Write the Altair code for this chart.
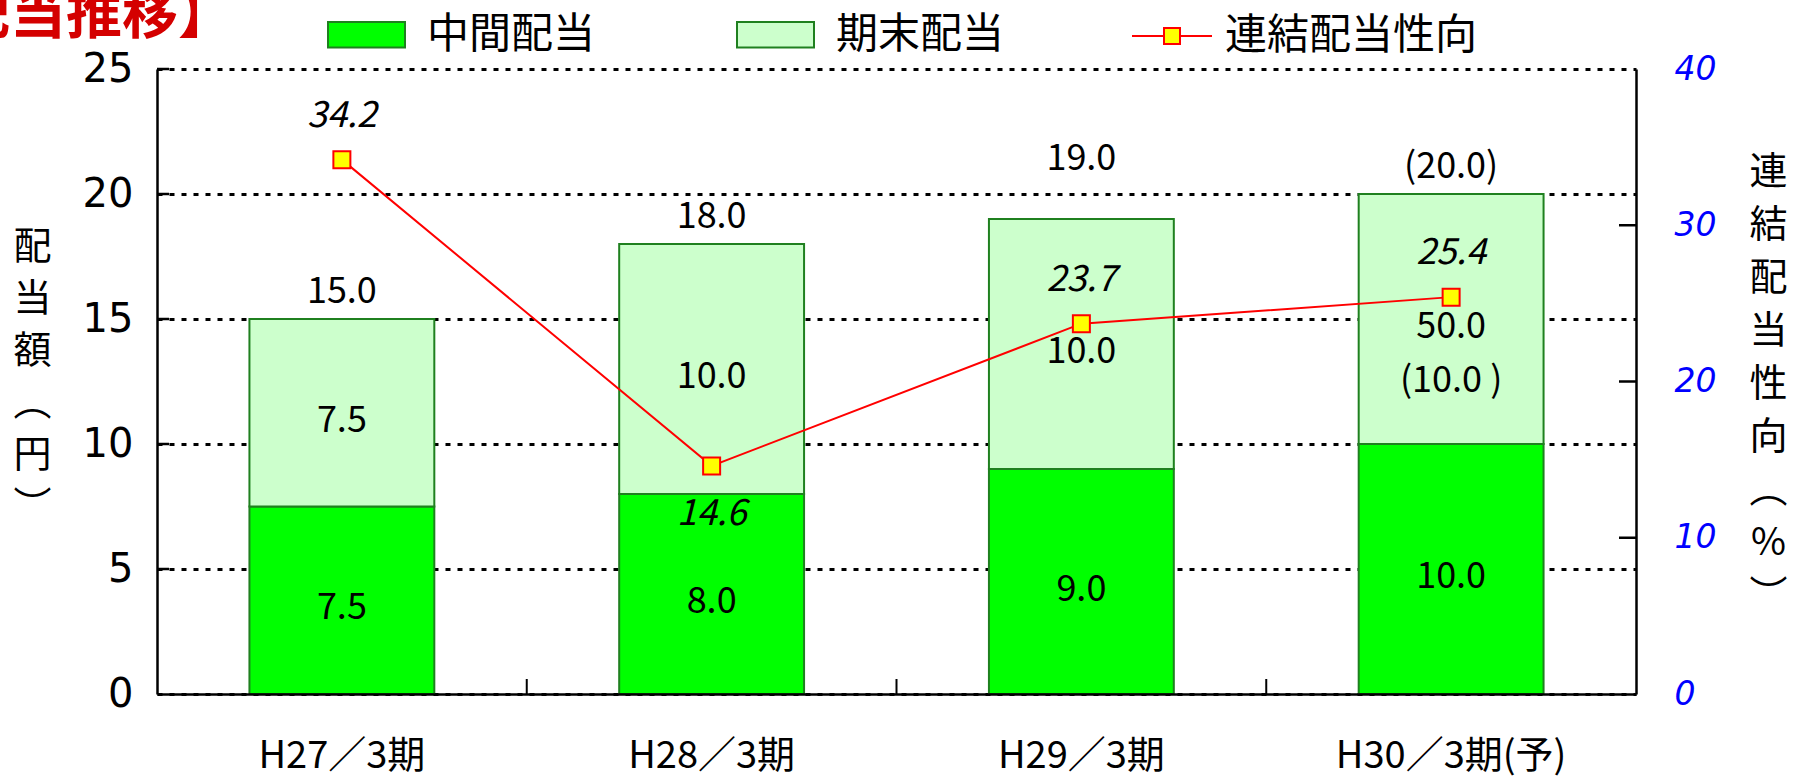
import altair as alt
import pandas as pd

# Dividend per share (yen) by fiscal period, and consolidated payout ratio (%)
periods = ["H27／3期", "H28／3期", "H29／3期", "H30／3期(予)"]
interim = [7.5, 8.0, 9.0, 10.0]
year_end = [7.5, 10.0, 10.0, 10.0]
payout = [34.2, 14.6, 23.7, 25.4]
total_labels = ["15.0", "18.0", "19.0", "(20.0)"]
year_end_labels = ["7.5", "10.0", "10.0", "50.0\n(10.0 )"]

kinds = ["中間配当", "期末配当"]
kind_colors = ["#00ff00", "#ccffcc"]
series_name = "連結配当性向"
heading = "【配当推移】"

left_ticks = [0, 5, 10, 15, 20, 25]
right_ticks = [0, 10, 20, 30, 40]

JP = "Noto Sans CJK JP"
W, H = 1479, 625
STEP = W / 4.0  # band step with paddingInner 0.5 / paddingOuter 0.25

rows = []
for i, p in enumerate(periods):
    rows.append(dict(period=p, kind=kinds[0], value=interim[i], order=0,
                     label=f"{interim[i]:.1f}", mid=interim[i] / 2))
    rows.append(dict(period=p, kind=kinds[1], value=year_end[i], order=1,
                     label=year_end_labels[i], mid=interim[i] + year_end[i] / 2))
bars_df = pd.DataFrame(rows)

totals_df = pd.DataFrame({
    "period": periods,
    "total": [a + b for a, b in zip(interim, year_end)],
    "label": total_labels,
})

ratio_df = pd.DataFrame({
    "period": periods,
    "ratio": payout,
    "series": [series_name] * len(periods),
    "label": [f"{v:.1f}" for v in payout],
})

x_scale = alt.Scale(domain=periods, paddingInner=0.5, paddingOuter=0.25)
x_enc = alt.X(
    "period:N", scale=x_scale, sort=periods, title=None,
    axis=alt.Axis(labelAngle=0, labelFont=JP, labelFontSize=38, labelColor="black",
                  labelPadding=43, labelLimit=0, ticks=False, grid=False,
                  domainColor="black", domainWidth=2.5, zindex=1),
)
# secondary layers share the x scale and leave the axis to the bar layer
x_plain = alt.X("period:N", scale=x_scale, sort=periods, title=None)

left_scale = alt.Scale(domain=[0, 25], nice=False)
right_scale = alt.Scale(domain=[0, 40], nice=False)

left_axis = alt.Axis(
    values=left_ticks, grid=True, gridDash=[5, 7], gridColor="black", gridWidth=3,
    gridOpacity=1, domainColor="black", domainWidth=2.5, ticks=False,
    labelFont="DejaVu Sans", labelFontSize=40, labelColor="black", labelPadding=24,
    title=["配", "当", "額", "︵", "円", "︶"], titleAngle=0, titleX=-125, titleY=178,
    titleBaseline="middle", titleAlign="center", titleFont=JP, titleFontSize=38,
    titleFontWeight="normal", titleLineHeight=52, titleColor="black",
)

right_axis = alt.Axis(
    orient="right", values=right_ticks, grid=False, ticks=False,
    domainColor="black", domainWidth=2.5,
    labelFont="DejaVu Sans", labelFontStyle="italic", labelFontSize=33,
    labelColor="#0000ff", labelPadding=38, labelAlign="left",
    title=["連", "結", "配", "当", "性", "向", "︵", "%", "︶"], titleAngle=0,
    titleX=132, titleY=103, titleBaseline="middle", titleAlign="center", titleFont=JP,
    titleFontSize=38, titleFontWeight="normal", titleLineHeight=53, titleColor="black",
)

# --- dividend bars (left scale) ---
bars = alt.Chart(bars_df).mark_bar(stroke="#1f801f", strokeWidth=2).encode(
    x=x_enc,
    y=alt.Y("value:Q", stack="zero", scale=left_scale, axis=left_axis),
    fill=alt.Fill(
        "kind:N", scale=alt.Scale(domain=kinds, range=kind_colors),
        legend=alt.Legend(
            orient="none", legendX=170, legendY=-74, direction="horizontal", title=None,
            symbolType="M-1,-0.33H1V0.33H-1Z", symbolSize=5929,
            symbolStrokeColor="#1f801f", symbolStrokeWidth=2, symbolOpacity=1,
            labelFont=JP, labelFontSize=42, labelColor="black", labelOffset=21,
            columnPadding=137, padding=0, labelLimit=0,
        ),
    ),
    order=alt.Order("order:Q"),
)

seg_text = alt.Chart(bars_df).mark_text(
    font=JP, fontSize=36, color="black", baseline="middle", lineBreak="\n",
    lineHeight=54, yOffset=8
).encode(
    x=x_plain,
    y=alt.Y("mid:Q", scale=left_scale),
    text="label:N",
)

# totals sit just above each bar; when the next dotted gridline is very close
# above the bar top, the label is lifted clear of that gridline
total_text = alt.Chart(totals_df).transform_calculate(
    grid_above="ceil(datum.total / 5) * 5",
).transform_calculate(
    label_y="(datum.grid_above - datum.total > 0 && datum.grid_above - datum.total < 1.5)"
            " ? datum.grid_above + 1.4 : datum.total + 1.1",
).mark_text(
    font=JP, fontSize=36, color="black", baseline="middle"
).encode(
    x=x_plain,
    y=alt.Y("label_y:Q", scale=left_scale),
    text="label:N",
)

# short inward stubs where the dotted grid meets the left axis
left_stubs = alt.Chart(pd.DataFrame({"v": left_ticks[1:]})).mark_rule(
    color="black", strokeWidth=2.5
).encode(
    y=alt.Y("v:Q", scale=left_scale),
    x=alt.value(0), x2=alt.value(12),
)

# category separators on the x axis, pointing up into the plot
sep = alt.Chart(pd.DataFrame({"period": periods[1:]})).mark_rule(
    color="black", strokeWidth=2, xOffset=-STEP / 4
).encode(
    x=alt.X("period:N", scale=x_scale, sort=periods, title=None, bandPosition=0),
    y=alt.value(H), y2=alt.value(H - 15),
)

# chart heading, partly running off the left edge of the page
head = alt.Chart(pd.DataFrame({"t": [heading]})).mark_text(
    font=JP, fontSize=56, fontWeight="bold", color="#d40000", align="left",
    baseline="middle"
).encode(
    x=alt.value(-259), y=alt.value(-53), text="t:N",
)

left_layer = alt.layer(bars, left_stubs, sep, seg_text, total_text, head)

# --- payout ratio line (right scale) ---
line = alt.Chart(ratio_df).mark_line(strokeWidth=2).encode(
    x=x_plain,
    y=alt.Y("ratio:Q", scale=right_scale, axis=right_axis),
    stroke=alt.Stroke(
        "series:N", scale=alt.Scale(domain=[series_name], range=["#ff0000"]),
        legend=alt.Legend(
            orient="none", legendX=974, legendY=-74, title=None,
            symbolType="M-1,0H-0.2M0.2,0H1M-0.2,-0.2H0.2V0.2H-0.2Z", symbolSize=6400,
            symbolFillColor="#ffff00", symbolStrokeWidth=2, symbolOpacity=1,
            labelFont=JP, labelFontSize=42, labelColor="black", labelOffset=12,
            padding=0, labelLimit=0,
        ),
    ),
)

points = alt.Chart(ratio_df).mark_point(
    shape="square", size=289, filled=True, fill="#ffff00", stroke="#ff0000",
    strokeWidth=2, opacity=1
).encode(
    x=x_plain,
    y=alt.Y("ratio:Q", scale=right_scale),
)

ratio_base = alt.Chart(ratio_df).encode(
    x=x_plain,
    y=alt.Y("ratio:Q", scale=right_scale),
    text="label:N",
)
ratio_above = ratio_base.transform_filter("datum.ratio >= 20").mark_text(
    font=JP, fontSize=36, fontStyle="italic", color="black", baseline="middle", yOffset=-44
)
ratio_below = ratio_base.transform_filter("datum.ratio < 20").mark_text(
    font=JP, fontSize=36, fontStyle="italic", color="black", baseline="middle", yOffset=48
)

right_stubs = alt.Chart(pd.DataFrame({"v": right_ticks[1:-1]})).mark_rule(
    color="black", strokeWidth=2.5
).encode(
    y=alt.Y("v:Q", scale=right_scale),
    x=alt.value(W - 17), x2=alt.value(W),
)

right_layer = alt.layer(line, points, ratio_above, ratio_below, right_stubs)

chart = alt.layer(left_layer, right_layer).resolve_scale(
    y="independent", fill="independent", stroke="independent"
).properties(
    width=W, height=H,
    padding={"left": 157, "top": 69, "right": 164, "bottom": 84},
    autosize=alt.AutoSizeParams(type="none"),
).configure(background="white").configure_view(stroke=None)

chart.save("out.html", embed_options={"renderer": "svg", "actions": False})
